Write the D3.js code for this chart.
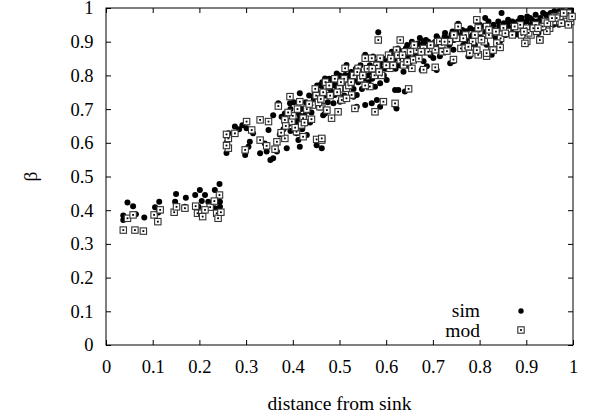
<!DOCTYPE html>
<html>
<head>
<meta charset="utf-8">
<script src="https://d3js.org/d3.v7.min.js"></script>
<style>
  body { margin: 0; background: #fff; }
  text { font-family: "Liberation Serif", "Times New Roman", serif; }
</style>
</head>
<body>
<script>
// values
let xTicks = [0, 0.1, 0.2, 0.3, 0.4, 0.5, 0.6, 0.7, 0.8, 0.9, 1];
let yTicks = [0, 0.1, 0.2, 0.3, 0.4, 0.5, 0.6, 0.7, 0.8, 0.9, 1];
let seriesNames = ['sim', 'mod'];

let simPoints = [
  [0.046,0.423],[0.058,0.412],[0.037,0.384],[0.037,0.371],[0.064,0.388],[0.082,0.378],
  [0.105,0.409],[0.114,0.425],[0.112,0.393],[0.148,0.425],[0.150,0.448],[0.171,0.437],
  [0.169,0.410],[0.191,0.445],[0.201,0.460],[0.212,0.445],[0.205,0.427],[0.219,0.425],
  [0.233,0.460],[0.243,0.478],[0.244,0.425],[0.244,0.410],[0.198,0.410],[0.233,0.406],
  [0.276,0.648],[0.262,0.628],[0.262,0.584],[0.301,0.643],[0.308,0.603],[0.305,0.588],
  [0.298,0.564],[0.330,0.569],[0.340,0.598],[0.344,0.574],[0.358,0.554],[0.348,0.638],
  [0.358,0.682],[0.369,0.717],[0.376,0.677],[0.383,0.687],[0.394,0.717],[0.415,0.747],
  [0.405,0.658],[0.408,0.628],[0.412,0.608],[0.415,0.588],[0.426,0.658],[0.430,0.623],
  [0.440,0.712],[0.451,0.593],[0.462,0.584],[0.455,0.747],[0.469,0.687],[0.487,0.717],
  [0.387,0.584],[0.366,0.574],[0.315,0.628],[0.352,0.549],[0.258,0.570],[0.258,0.600],
  [0.260,0.615],[0.285,0.640],[0.292,0.652],
  [0.469,0.791],[0.465,0.757],[0.494,0.806],[0.497,0.786],[0.515,0.831],[0.526,0.777],
  [0.530,0.786],[0.544,0.806],[0.551,0.801],[0.555,0.861],[0.572,0.856],[0.587,0.851],
  [0.601,0.836],[0.608,0.831],[0.630,0.846],[0.640,0.866],[0.651,0.875],[0.665,0.885],
  [0.680,0.890],[0.490,0.742],[0.501,0.722],[0.497,0.692],[0.530,0.737],[0.537,0.742],
  [0.537,0.707],[0.555,0.712],[0.569,0.717],[0.580,0.727],[0.587,0.707],[0.576,0.766],
  [0.587,0.777],[0.601,0.786],[0.619,0.757],[0.622,0.702],[0.465,0.682],[0.458,0.771],
  [0.512,0.801],[0.583,0.928],[0.640,0.752],[0.708,0.816],[0.737,0.836],[0.676,0.816],
  [0.651,0.826],[0.637,0.811],[0.626,0.757],[0.619,0.712],
  [0.372,0.625],[0.380,0.640],[0.390,0.655],[0.395,0.635],[0.400,0.670],[0.410,0.690],
  [0.418,0.700],[0.420,0.640],[0.425,0.680],[0.432,0.695],[0.437,0.660],[0.445,0.730],
  [0.450,0.760],[0.460,0.770],[0.470,0.740],[0.475,0.720],[0.480,0.760],[0.485,0.780],
  [0.490,0.770],[0.500,0.800],[0.505,0.760],[0.510,0.740],[0.520,0.790],[0.525,0.810],
  [0.535,0.820],[0.540,0.780],[0.548,0.760],[0.560,0.800],[0.565,0.830],[0.570,0.790],
  [0.575,0.820],[0.580,0.840],[0.590,0.820],[0.595,0.800],[0.600,0.850],[0.610,0.860],
  [0.615,0.840],[0.620,0.820],[0.625,0.880],[0.630,0.870],[0.635,0.850],[0.645,0.890],
  [0.650,0.840],[0.655,0.900],[0.660,0.870],[0.670,0.860],[0.675,0.890],[0.685,0.905],
  [0.690,0.880],[0.695,0.860],[0.700,0.895],[0.710,0.910],[0.715,0.880],[0.720,0.900],
  [0.730,0.910],[0.735,0.890],[0.745,0.905],[0.750,0.930],[0.760,0.920],[0.765,0.890],
  [0.770,0.900],[0.780,0.940],[0.785,0.920],[0.790,0.890],[0.800,0.950],[0.805,0.910],
  [0.810,0.930],[0.820,0.940],[0.825,0.920],[0.830,0.950],[0.835,0.910],[0.840,0.960],
  [0.850,0.940],[0.855,0.920],[0.860,0.950],[0.865,0.930],[0.870,0.960],[0.875,0.940],
  [0.880,0.950],[0.885,0.930],[0.890,0.970],[0.895,0.940],[0.900,0.960],[0.905,0.930],
  [0.915,0.960],[0.925,0.950],[0.930,0.970],[0.935,0.940],[0.945,0.970],[0.955,0.960],
  [0.960,0.990],[0.965,0.975],[0.975,0.965],[0.975,0.990],[0.985,0.985],[0.990,0.970],
  [0.995,0.990],[0.970,0.970],[0.980,0.955],
  [0.672,0.911],[0.680,0.901],[0.708,0.916],[0.726,0.926],[0.740,0.921],[0.754,0.953],
  [0.772,0.931],[0.794,0.960],[0.812,0.970],[0.819,0.960],[0.847,0.985],[0.861,0.965],
  [0.887,0.970],[0.908,0.970],[0.936,0.985],[0.972,0.980],[0.986,0.980],[0.990,0.990],
  [0.994,0.955],[0.979,0.960],[0.965,0.960],[0.687,0.872],[0.701,0.852],[0.715,0.857],
  [0.730,0.872],[0.744,0.876],[0.779,0.857],[0.794,0.872],[0.815,0.891],[0.829,0.876],
  [0.844,0.901],[0.858,0.921],[0.879,0.921],[0.901,0.896],[0.926,0.926],[0.951,0.945],
  [0.776,0.857],[0.779,0.911],[0.801,0.926],[0.837,0.931],[0.872,0.945],[0.908,0.941],
  [0.680,0.842],[0.687,0.827],[0.744,0.842],[0.826,0.861],[0.778,0.858],
  [0.950,0.970],[0.960,0.980],[0.970,0.990],[0.980,0.970],[0.990,0.960],[0.970,0.950],
  [0.930,0.960],[0.940,0.950],[0.910,0.950],[0.890,0.960],[0.920,0.980],[0.990,0.980],
  [0.980,0.990],[0.960,0.960],[0.995,0.975],[0.985,0.965],
  [0.395,0.700],[0.402,0.720],[0.410,0.665],[0.415,0.680],[0.428,0.720],[0.435,0.740],
  [0.440,0.690],[0.447,0.745],[0.452,0.770],[0.458,0.740],[0.463,0.780],[0.472,0.765],
  [0.478,0.790],[0.483,0.750],[0.495,0.760],[0.500,0.780],[0.507,0.790],[0.515,0.770],
  [0.520,0.800],[0.530,0.760],[0.535,0.790],[0.545,0.830],[0.552,0.790],[0.558,0.820],
  [0.562,0.780],[0.568,0.810],[0.578,0.800],[0.585,0.830],[0.592,0.840],[0.598,0.820],
  [0.605,0.840],[0.612,0.870],[0.618,0.850],[0.628,0.830],[0.633,0.860],[0.642,0.880],
  [0.648,0.855],[0.658,0.880],[0.663,0.860],[0.668,0.895],[0.678,0.875],[0.690,0.900],
  [0.698,0.875],[0.705,0.900],[0.712,0.895],[0.725,0.915],[0.732,0.900],[0.742,0.930],
  [0.755,0.910],[0.763,0.935],[0.775,0.915],[0.788,0.935],[0.798,0.920],[0.808,0.945],
  [0.818,0.925],[0.828,0.940],[0.842,0.945],[0.852,0.955],[0.862,0.940],[0.872,0.930],
  [0.882,0.960],[0.892,0.950],[0.902,0.975],[0.912,0.965],[0.922,0.960],[0.932,0.950],
  [0.942,0.980],[0.952,0.985],[0.958,0.950],[0.968,0.985],[0.978,0.975],[0.988,0.975],
  [0.992,0.965],[0.997,0.980]
];

let modPoints = [
  [0.037,0.341],[0.062,0.341],[0.080,0.338],[0.046,0.376],[0.058,0.386],[0.103,0.386],
  [0.111,0.366],[0.116,0.401],[0.146,0.394],[0.151,0.410],[0.169,0.406],[0.192,0.412],
  [0.196,0.391],[0.205,0.391],[0.207,0.381],[0.223,0.409],[0.237,0.391],[0.240,0.376],
  [0.246,0.394],[0.243,0.445],[0.232,0.427],[0.212,0.401],
  [0.262,0.613],[0.276,0.628],[0.301,0.663],[0.312,0.638],[0.298,0.579],[0.330,0.668],
  [0.348,0.663],[0.330,0.608],[0.344,0.591],[0.366,0.603],[0.362,0.581],[0.369,0.709],
  [0.383,0.668],[0.383,0.613],[0.394,0.737],[0.398,0.663],[0.415,0.722],[0.422,0.673],
  [0.408,0.633],[0.422,0.618],[0.419,0.653],[0.451,0.610],[0.462,0.608],[0.462,0.707],
  [0.473,0.697],[0.442,0.712],[0.483,0.673],[0.262,0.584],[0.258,0.592],[0.258,0.625],
  [0.473,0.767],[0.458,0.707],[0.497,0.692],[0.512,0.821],[0.515,0.762],
  [0.540,0.821],[0.555,0.851],[0.569,0.851],[0.587,0.851],[0.608,0.821],[0.565,0.767],
  [0.526,0.742],[0.505,0.727],[0.515,0.732],[0.533,0.702],[0.576,0.692],[0.594,0.722],
  [0.619,0.717],[0.462,0.613],[0.630,0.846],[0.637,0.831],[0.655,0.821],[0.658,0.846],
  [0.672,0.875],[0.665,0.875],[0.622,0.875],[0.630,0.905],[0.583,0.905],[0.648,0.760],
  [0.375,0.630],[0.385,0.650],[0.400,0.680],[0.405,0.645],[0.410,0.700],[0.425,0.660],
  [0.430,0.700],[0.440,0.670],[0.450,0.740],[0.455,0.720],[0.465,0.750],[0.470,0.780],
  [0.480,0.740],[0.490,0.790],[0.500,0.760],[0.510,0.790],[0.520,0.770],[0.530,0.800],
  [0.545,0.790],[0.555,0.770],[0.560,0.820],[0.575,0.800],[0.580,0.830],[0.590,0.800],
  [0.600,0.830],[0.605,0.860],[0.615,0.830],[0.625,0.860],[0.640,0.870],[0.645,0.840],
  [0.660,0.890],[0.670,0.850],[0.680,0.880],[0.690,0.870],[0.700,0.880],[0.710,0.900],
  [0.720,0.870],[0.735,0.900],[0.750,0.910],[0.760,0.880],[0.770,0.920],[0.785,0.900],
  [0.800,0.930],[0.810,0.900],[0.820,0.920],[0.835,0.930],[0.845,0.910],[0.860,0.930],
  [0.870,0.920],[0.880,0.940],[0.890,0.920],[0.900,0.940],[0.910,0.920],[0.920,0.950],
  [0.940,0.960],[0.950,0.940],[0.960,0.975],[0.970,0.960],[0.975,0.980],[0.985,0.975],
  [0.990,0.985],[0.995,0.960],
  [0.680,0.817],[0.705,0.824],[0.705,0.876],[0.719,0.891],[0.744,0.847],[0.769,0.881],
  [0.779,0.866],[0.797,0.861],[0.815,0.857],[0.826,0.876],[0.804,0.906],[0.837,0.896],
  [0.844,0.883],[0.901,0.901],[0.905,0.926],[0.929,0.906],[0.754,0.945],[0.794,0.965],
  [0.797,0.941],[0.815,0.945],[0.851,0.941],[0.887,0.950],[0.922,0.931],[0.944,0.931],
  [0.972,0.975],[0.986,0.960],[0.994,0.970],[0.958,0.960],[0.715,0.901],[0.730,0.872],
  [0.776,0.885],[0.794,0.875],[0.815,0.866],[0.829,0.875],[0.897,0.895],[0.929,0.905],
  [0.950,0.955],[0.965,0.970],[0.980,0.985],[0.990,0.950],[0.935,0.945],[0.915,0.940],
  [0.390,0.690],[0.435,0.715],[0.448,0.760],[0.460,0.730],[0.478,0.770],[0.495,0.750],
  [0.503,0.780],[0.525,0.780],[0.538,0.810],[0.550,0.800],[0.570,0.820],[0.585,0.810],
  [0.610,0.850],[0.635,0.860],[0.652,0.870],[0.675,0.870],[0.695,0.890],[0.725,0.900],
  [0.745,0.920],[0.765,0.910],[0.790,0.920],[0.820,0.935],[0.855,0.925],[0.875,0.945],
  [0.895,0.930],[0.925,0.940],[0.945,0.955],[0.955,0.970],[0.975,0.955],[0.998,0.975]
];

let width = 595, height = 414;
let margin = {left: 106, right: 22, top: 8, bottom: 69};
let tickFont = '18.5px', labelFont = '19.5px';

let svg = d3.select('body')
  .append('svg')
  .attr('width', width)
  .attr('height', height);

let xScale = d3.scaleLinear()
  .domain([0, 1])
  .range([margin.left, width - margin.right]);

let yScale = d3.scaleLinear()
  .domain([0, 1])
  .range([height - margin.bottom, margin.top]);

let fmt = d => d === 0 || d === 1 ? String(d) : d3.format('.1f')(d);

// gnuplot style frame: inward ticks on every side
let xAxis = d3.axisBottom(xScale).tickValues(xTicks).tickFormat(fmt).tickSizeInner(-5).tickSizeOuter(0).tickPadding(14.5);
let yAxis = d3.axisLeft(yScale).tickValues(yTicks).tickFormat(fmt).tickSizeInner(-5).tickSizeOuter(0).tickPadding(12.5);
let xTop = d3.axisTop(xScale).tickValues(xTicks).tickFormat('').tickSizeInner(-5).tickSizeOuter(0);
let yRight = d3.axisRight(yScale).tickValues(yTicks).tickFormat('').tickSizeInner(-5).tickSizeOuter(0);

svg.append('g').attr('transform', `translate(0,${yScale(0)})`).call(xAxis);
svg.append('g').attr('transform', `translate(${xScale(0)},0)`).call(yAxis);
svg.append('g').attr('transform', `translate(0,${yScale(1)})`).call(xTop);
svg.append('g').attr('transform', `translate(${xScale(1)},0)`).call(yRight);

svg.selectAll('.domain').remove();
svg.selectAll('.tick line').attr('stroke', '#000');
svg.selectAll('.tick text')
  .attr('fill', '#000')
  .style('font-size', tickFont);

svg.append('rect')
  .attr('x', xScale(0))
  .attr('y', yScale(1))
  .attr('width', xScale(1) - xScale(0))
  .attr('height', yScale(0) - yScale(1))
  .attr('fill', 'none')
  .attr('stroke', '#000')
  .attr('stroke-width', 1);

// sim: filled dots
svg.append('g')
  .selectAll('circle')
  .data(simPoints)
  .enter()
  .append('circle')
  .attr('cx', d => xScale(d[0]))
  .attr('cy', d => yScale(d[1]))
  .attr('r', 3)
  .attr('fill', '#000');

// mod: box with a dot in the middle
let drawBox = (g, cx, cy) => {
  g.append('rect')
    .attr('x', cx - 3.2).attr('y', cy - 3.2)
    .attr('width', 6.4).attr('height', 6.4)
    .attr('fill', '#fff')
    .attr('stroke', '#333')
    .attr('stroke-width', 1.1);
  g.append('rect')
    .attr('x', cx - 0.9).attr('y', cy - 0.9)
    .attr('width', 1.8).attr('height', 1.8)
    .attr('fill', '#000');
};

let modG = svg.append('g');
modPoints.forEach(d => drawBox(modG, xScale(d[0]), yScale(d[1])));

// legend
let legend = svg.append('g');
legend.append('text')
  .attr('x', 480).attr('y', 317)
  .attr('text-anchor', 'end')
  .style('font-size', labelFont)
  .text(seriesNames[0]);
legend.append('circle')
  .attr('cx', 521).attr('cy', 311)
  .attr('r', 2.7)
  .attr('fill', '#000');
legend.append('text')
  .attr('x', 480).attr('y', 337)
  .attr('text-anchor', 'end')
  .style('font-size', labelFont)
  .text(seriesNames[1]);
drawBox(legend, 521, 330);

// axis titles
svg.append('text')
  .attr('x', (xScale(0) + xScale(1)) / 2)
  .attr('y', 410)
  .attr('text-anchor', 'middle')
  .style('font-size', labelFont)
  .text('distance from sink');

svg.append('text')
  .attr('transform', `translate(37,${yScale(0.5)}) rotate(-90)`)
  .attr('text-anchor', 'middle')
  .style('font-size', labelFont)
  .text('β');
</script>
</body>
</html>
